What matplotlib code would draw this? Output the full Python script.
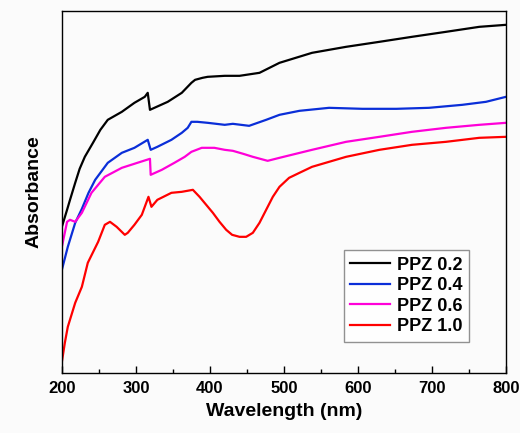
import matplotlib.pyplot as plt
from matplotlib.ticker import MultipleLocator

plt.rcParams['font.family'] = ['Liberation Sans', 'DejaVu Sans']
plt.rcParams['font.weight'] = 'bold'

# wavelength (nm) / absorbance (a.u.)
wl_02 = [200, 207, 211, 218, 224, 231, 242, 252, 262, 281, 298, 312, 316, 319, 325, 343, 362, 375, 380,
         390, 397, 420, 440, 467, 494, 538, 584, 629, 673, 719, 764, 800]
abs_02 = [1.46, 1.63, 1.73, 1.90, 2.04, 2.16, 2.30, 2.43, 2.53, 2.61, 2.70, 2.76, 2.80, 2.63, 2.65, 2.71, 2.80, 2.90, 2.93,
          2.95, 2.96, 2.97, 2.97, 3.00, 3.10, 3.20, 3.26, 3.31, 3.36, 3.41, 3.46, 3.48]

wl_04 = [200, 208, 218, 227, 236, 245, 262, 281, 298, 316, 320, 329, 348, 362, 370, 375, 383, 397,
         420, 431, 453, 476, 494, 521, 561, 606, 652, 696, 741, 773, 800]
abs_04 = [1.03, 1.26, 1.50, 1.64, 1.80, 1.93, 2.10, 2.20, 2.25, 2.33, 2.23, 2.26, 2.33, 2.40, 2.45, 2.51, 2.51, 2.50,
          2.48, 2.49, 2.47, 2.53, 2.58, 2.62, 2.65, 2.64, 2.64, 2.65, 2.68, 2.71, 2.76]

wl_06 = [200, 207, 211, 218, 227, 240, 258, 281, 302, 319, 320, 335, 352, 366, 375, 389, 406,
         420, 431, 445, 458, 478, 494, 538, 584, 629, 673, 719, 764, 800]
abs_06 = [1.26, 1.51, 1.53, 1.51, 1.60, 1.80, 1.96, 2.05, 2.10, 2.14, 1.98, 2.03, 2.10, 2.16, 2.21, 2.25, 2.25,
          2.23, 2.22, 2.19, 2.16, 2.12, 2.15, 2.23, 2.31, 2.36, 2.41, 2.45, 2.48, 2.50]

wl_10 = [200, 204, 208, 218, 227, 235, 249, 258, 265, 274, 285, 289, 298, 308, 312, 317, 321, 329,
         348, 362, 377, 386, 395, 404, 413, 422, 430, 440, 449, 458, 467, 476, 485, 494, 507, 521, 538,
         584, 629, 673, 719, 764, 800]
abs_10 = [0.11, 0.30, 0.46, 0.70, 0.86, 1.10, 1.31, 1.48, 1.51, 1.46, 1.38, 1.40, 1.48, 1.58, 1.66, 1.76, 1.66, 1.73,
          1.80, 1.81, 1.83, 1.76, 1.68, 1.60, 1.51, 1.43, 1.38, 1.36, 1.36, 1.40, 1.50, 1.63, 1.76, 1.86, 1.95, 2.00, 2.06,
          2.16, 2.23, 2.28, 2.31, 2.35, 2.36]

fig = plt.figure(figsize=(5.2, 4.33), dpi=100, facecolor='#fbfbfb')
ax = fig.add_axes([0.119, 0.139, 0.854, 0.836])
ax.set_facecolor('#fbfbfb')

ax.plot(wl_02, abs_02, color='black', lw=1.6, label='PPZ 0.2')
ax.plot(wl_04, abs_04, color='#0a2ed8', lw=1.6, label='PPZ 0.4')
ax.plot(wl_06, abs_06, color='#ff00d8', lw=1.6, label='PPZ 0.6')
ax.plot(wl_10, abs_10, color='#ff0000', lw=1.6, label='PPZ 1.0')

ax.set_xlim(200, 800)
ax.set_ylim(0, 3.62)
ax.xaxis.set_major_locator(MultipleLocator(100))
ax.xaxis.set_minor_locator(MultipleLocator(50))
ax.tick_params(axis='x', which='major', direction='in', length=5, width=1, labelsize=12, pad=6)
ax.tick_params(axis='x', which='minor', direction='in', length=3, width=1)
ax.set_yticks([])
for s in ax.spines.values():
    s.set_linewidth(1.0)

ax.set_xlabel('Wavelength (nm)', fontsize=14, fontweight='bold', labelpad=5)
ax.set_ylabel('Absorbance', fontsize=14, fontweight='bold', labelpad=14)

leg = ax.legend(loc='lower right', bbox_to_anchor=(0.917, 0.086), fontsize=13,
                frameon=True, fancybox=False, edgecolor='#777777', handlelength=2.2,
                borderpad=0.35, labelspacing=0.2, handletextpad=0.4, borderaxespad=0)
leg.get_frame().set_linewidth(1.0)

fig.savefig('out.png', dpi=100, facecolor=fig.get_facecolor())
